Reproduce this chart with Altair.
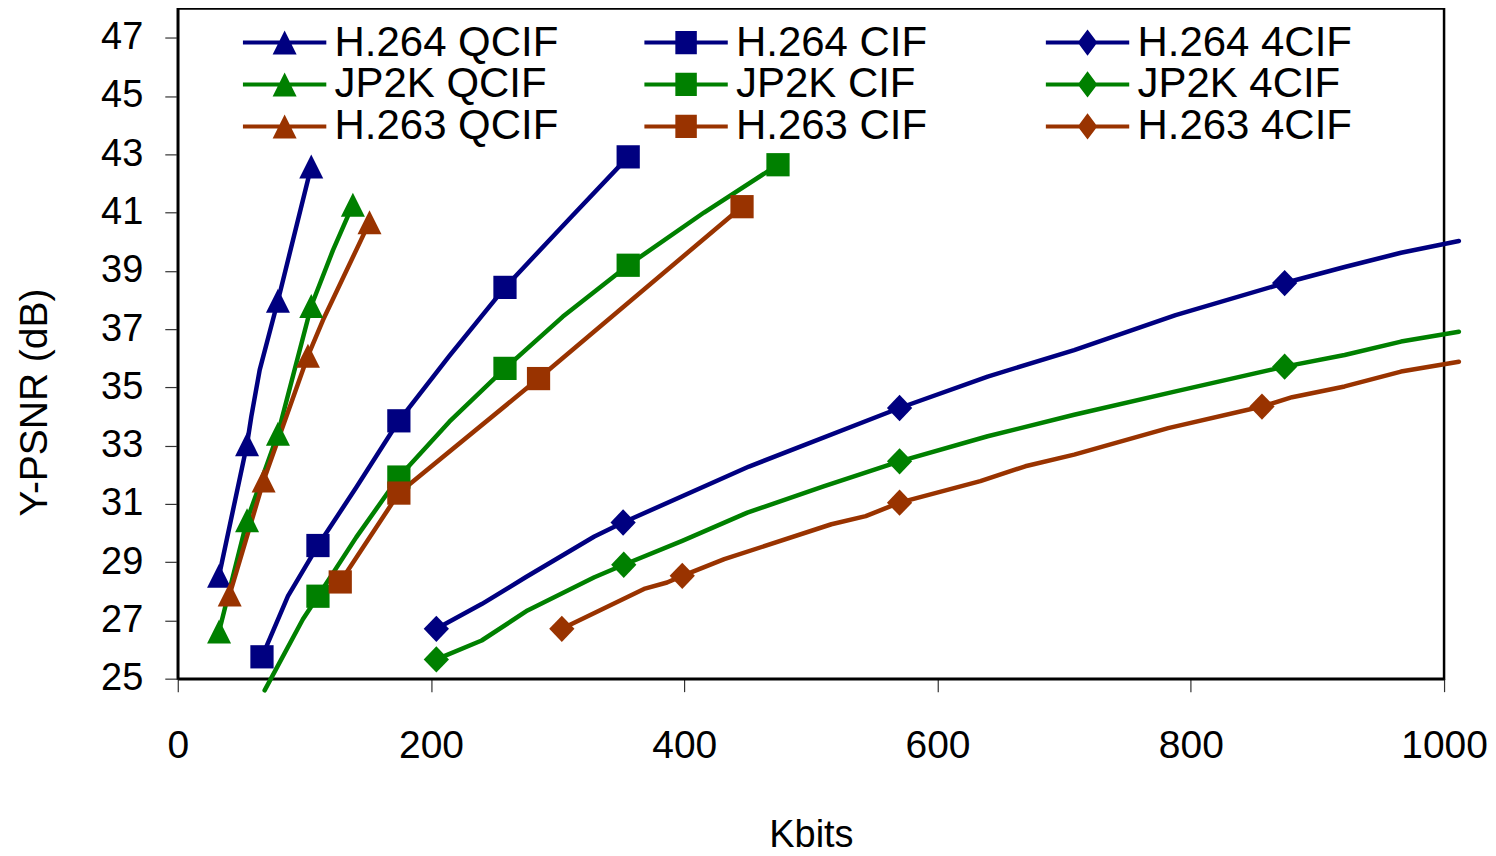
import altair as alt
import pandas as pd

SERIES = ["H.264 QCIF", "H.264 CIF", "H.264 4CIF",
          "JP2K QCIF", "JP2K CIF", "JP2K 4CIF",
          "H.263 QCIF", "H.263 CIF", "H.263 4CIF"]
NAVY, GREEN, BROWN = "#000080", "#008000", "#993300"
COLORS = [NAVY, NAVY, NAVY, GREEN, GREEN, GREEN, BROWN, BROWN, BROWN]

# line vertices (Kbits, Y-PSNR dB) and marker flags (1 = marker drawn)
H264_QCIF_X = [32.6, 54.7, 58.1, 64.7, 79.1, 105.4]
H264_QCIF_Y = [28.53, 33.05, 34.0, 35.6, 37.97, 42.58]
H264_QCIF_M = [1, 1, 0, 0, 1, 1]

JP2K_QCIF_X = [32.6, 54.7, 79.1, 105.4, 122.5, 138.3]
JP2K_QCIF_Y = [26.62, 30.44, 33.41, 37.79, 39.7, 41.27]
JP2K_QCIF_M = [1, 1, 1, 1, 0, 1]

H263_QCIF_X = [41.0, 67.8, 102.8, 114.6, 151.4]
H263_QCIF_Y = [27.89, 31.8, 36.08, 37.3, 40.67]
H263_QCIF_M = [1, 1, 1, 0, 1]

H264_CIF_X = [66.5, 87.0, 110.7, 140.9, 174.6, 214.5, 258.4, 309.0, 355.7]
H264_CIF_Y = [25.75, 27.83, 29.57, 31.56, 33.85, 36.08, 38.43, 40.77, 42.91]
H264_CIF_M = [1, 0, 1, 0, 1, 0, 1, 0, 1]

JP2K_CIF_X = [68.6, 98.8, 110.7, 140.9, 174.6, 214.5, 258.4, 303.9, 355.7, 415.6, 474.0]
JP2K_CIF_Y = [24.6, 27.04, 27.83, 29.85, 31.92, 33.82, 35.65, 37.42, 39.19, 41.0, 42.64]
JP2K_CIF_M = [0, 0, 1, 0, 1, 0, 1, 0, 1, 0, 1]

H263_CIF_X = [128.3, 174.6, 284.9, 445.6]
H263_CIF_Y = [28.32, 31.37, 35.3, 41.2]
H263_CIF_M = [1, 1, 1, 1]

H264_4CIF_X = [204.2, 240.0, 274.7, 329.0, 351.7, 451.1, 570.0, 639.6, 707.9, 788.0,
               874.1, 921.5, 966.0, 1011.7]
H264_4CIF_Y = [26.71, 27.56, 28.48, 29.88, 30.36, 32.28, 34.29, 35.37, 36.28, 37.48,
               38.58, 39.13, 39.62, 40.02]
H264_4CIF_M = [1, 0, 0, 0, 1, 0, 1, 0, 0, 0, 1, 0, 0, 0]

JP2K_4CIF_X = [204.2, 240.0, 276.2, 329.0, 352.2, 398.4, 449.8, 510.0, 570.0, 639.6,
               707.9, 788.0, 874.1, 921.5, 966.0, 1011.7]
JP2K_4CIF_Y = [25.66, 26.31, 27.34, 28.48, 28.91, 29.73, 30.7, 31.6, 32.46, 33.32,
               34.06, 34.86, 35.71, 36.11, 36.57, 36.91]
JP2K_4CIF_M = [1, 0, 0, 0, 1, 0, 0, 0, 1, 0, 0, 0, 1, 0, 0, 0]

H263_4CIF_X = [303.3, 368.2, 386.4, 398.4, 431.6, 516.2, 543.3, 570.0, 633.8, 669.3,
               707.9, 782.1, 856.2, 880.0, 921.5, 966.0, 1011.7]
H263_4CIF_Y = [26.71, 28.08, 28.3, 28.53, 29.1, 30.3, 30.58, 31.04, 31.78, 32.29,
               32.69, 33.6, 34.34, 34.66, 35.03, 35.54, 35.88]
H263_4CIF_M = [1, 0, 0, 1, 0, 0, 0, 1, 0, 0, 0, 0, 1, 0, 0, 0, 0]

DATA = {
    "H.264 QCIF": (H264_QCIF_X, H264_QCIF_Y, H264_QCIF_M),
    "JP2K QCIF": (JP2K_QCIF_X, JP2K_QCIF_Y, JP2K_QCIF_M),
    "H.263 QCIF": (H263_QCIF_X, H263_QCIF_Y, H263_QCIF_M),
    "H.264 CIF": (H264_CIF_X, H264_CIF_Y, H264_CIF_M),
    "JP2K CIF": (JP2K_CIF_X, JP2K_CIF_Y, JP2K_CIF_M),
    "H.263 CIF": (H263_CIF_X, H263_CIF_Y, H263_CIF_M),
    "H.264 4CIF": (H264_4CIF_X, H264_4CIF_Y, H264_4CIF_M),
    "JP2K 4CIF": (JP2K_4CIF_X, JP2K_4CIF_Y, JP2K_4CIF_M),
    "H.263 4CIF": (H263_4CIF_X, H263_4CIF_Y, H263_4CIF_M),
}

X_TICKS = [0, 200, 400, 600, 800, 1000]
Y_TICKS = [25, 27, 29, 31, 33, 35, 37, 39, 41, 43, 45, 47]

rows = []
for s, (xs, ys, ms) in DATA.items():
    for i, (xv, yv, mv) in enumerate(zip(xs, ys, ms)):
        rows.append({"series": s, "x": xv, "y": yv, "marker": mv, "i": i})
df = pd.DataFrame(rows)
mk = df[df["marker"] == 1]

TRI = "M0,-0.95L0.95,0.95L-0.95,0.95Z"
SQ = "M-0.92,-0.92H0.92V0.92H-0.92Z"
DIA = "M0,-1.04L1,0L0,1.04L-1,0Z"
SHAPES = [TRI, SQ, DIA] * 3
BAR = "M-3.3,-0.16H3.3V0.16H-3.3Z"
LTRI = BAR + TRI
LSQ = BAR + "M-0.85,-0.92H0.85V0.92H-0.85Z"
LDIA = BAR + "M0,-1.04L0.78,0L0,1.04L-0.78,0Z"
LEG_SHAPES = [LTRI, LSQ, LDIA] * 3

FONT = "Liberation Sans"
MSIZE = 640

xenc = alt.X("x:Q", scale=alt.Scale(domain=[0, 1000], nice=False, zero=False),
             axis=alt.Axis(values=X_TICKS, format="d", title="Kbits", grid=False,
                           tickSize=13, tickColor="#333333", tickWidth=1.2,
                           labelFontSize=39, labelPadding=35, labelColor="black",
                           labelFlush=False,
                           labelFont=FONT, titleFont=FONT, titleFontSize=38,
                           titleFontWeight="normal", titleColor="black", titleY=157,
                           titleBaseline="middle", domainColor="black",
                           domainWidth=2.5))
yenc = alt.Y("y:Q", scale=alt.Scale(domain=[25, 48], nice=False, zero=False),
             axis=alt.Axis(values=Y_TICKS, title="Y-PSNR (dB)", grid=False, tickSize=13,
                           tickColor="#333333", tickWidth=1.2, labelFontSize=38,
                           labelPadding=22, labelColor="black", labelFont=FONT,
                           labelFlush=False,
                           titleFont=FONT, titleFontSize=39, titleFontWeight="normal",
                           titleColor="black", titleX=-143, titleY=394,
                           titleBaseline="middle", titleAlign="center",
                           domainColor="black", domainWidth=2.5))

cscale = alt.Scale(domain=SERIES, range=COLORS)

lines = alt.Chart(df).mark_line(strokeWidth=4.5, strokeCap="round",
                                strokeJoin="round").encode(
    x=xenc, y=yenc,
    color=alt.Color("series:N", scale=cscale, legend=None),
    order="i:Q",
)

points = alt.Chart(mk).mark_point(filled=True, opacity=1, size=MSIZE,
                                  strokeWidth=0).encode(
    x=xenc, y=yenc,
    color=alt.Color("series:N", scale=cscale, legend=None),
    shape=alt.Shape("series:N", scale=alt.Scale(domain=SERIES, range=SHAPES),
                    legend=None),
)

leg = alt.Legend(title=None, orient="none", legendX=56, legendY=13, columns=3,
                 direction="horizontal",
                 labelFont=FONT, labelFontSize=42, labelColor="black",
                 labelLimit=500, symbolSize=MSIZE, symbolStrokeWidth=0,
                 symbolOpacity=1, symbolOffset=30, labelOffset=29,
                 columnPadding=76, rowPadding=-2, padding=0, gridAlign="all")

legend_layer = alt.Chart(mk).mark_point(filled=True, opacity=0, size=MSIZE,
                                        strokeWidth=0).encode(
    x=xenc, y=yenc,
    color=alt.Color("series:N", scale=cscale, legend=leg),
    shape=alt.Shape("series:N", scale=alt.Scale(domain=SERIES, range=LEG_SHAPES),
                    legend=leg),
)

chart = alt.layer(lines, points, legend_layer).resolve_scale(
    color="independent", shape="independent"
).properties(
    width=1268, height=671,
    padding={"left": 8, "top": 0, "right": 0, "bottom": 0},
    background="white",
).configure_view(stroke="black", strokeWidth=2.5)

chart.save("out.html", embed_options={"renderer": "svg", "actions": False})
